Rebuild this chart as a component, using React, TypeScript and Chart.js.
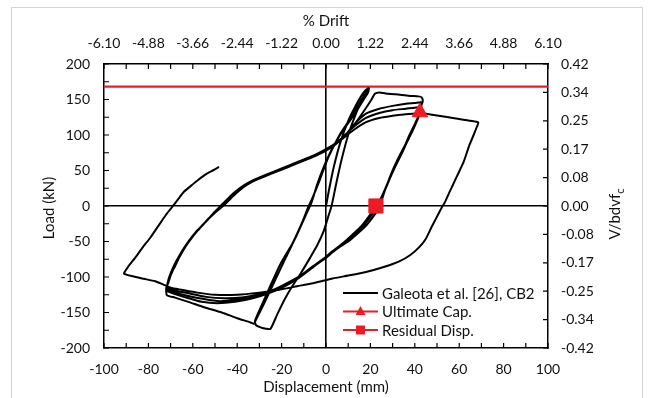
import React, { useEffect, useRef } from "react";
import { Chart, registerables } from "chart.js";

Chart.register(...registerables);

// ---------------- data ----------------
const dispTicks = [-100, -80, -60, -40, -20, 0, 20, 40, 60, 80, 100];
const dispMinorTicks = [-100, -90, -80, -70, -60, -50, -40, -30, -20, -10, 0, 10, 20, 30, 40, 50, 60, 70, 80, 90, 100];
const loadTicks = [-200, -150, -100, -50, 0, 50, 100, 150, 200];
const loadMinorTicks = [-200, -175, -150, -125, -100, -75, -50, -25, 0, 25, 50, 75, 100, 125, 150, 175, 200];
const driftTicks = [-6.1, -4.88, -3.66, -2.44, -1.22, 0, 1.22, 2.44, 3.66, 4.88, 6.1];
const ratioTicks = [-0.42, -0.336, -0.252, -0.168, -0.084, 0, 0.084, 0.168, 0.252, 0.336, 0.42];

const ultimateCapDisp = [42.3];
const ultimateCapLoad = [132];
const residualDispX = [22.5];
const residualDispY = [0];
const capacityLimitLoad = 168;
const capacityLimitSpan = [-100, 100];

type P = [number, number];
const branchInitial: P[] = [[0, 0], [1.5, 25], [3.5, 55], [6.5, 90], [10, 120], [13.5, 142], [16.5, 158], [19, 166]];
const branchNarrowDown1: P[] = [[18.5, 162], [16, 150], [12, 128], [6.3, 101], [2.5, 78], [0.3, 63], [-3, 35], [-6, 12], [-7.8, 0], [-11, -25], [-15, -52], [-20.4, -81], [-25, -112], [-29, -140], [-32, -162], [-31.5, -168], [-29.5, -171], [-27, -173], [-25, -173]];
const branchNarrowUp: P[] = [[-22, -153], [-18.9, -133], [-15, -112], [-11.4, -95], [-7, -72], [-3.9, -55], [-1, -35], [1, -15], [2.5, 0], [4.5, 30], [7, 65], [10, 100], [13.5, 130], [16.5, 152], [18.5, 163], [19.3, 166]];
const branchNarrowDown2: P[] = [[19, 160], [17, 150], [13, 130], [8, 108], [3, 82], [-1, 55], [-4, 30], [-6.5, 5], [-9, -12], [-13, -40], [-18, -72], [-23, -105], [-28, -138], [-31.5, -160], [-32.5, -166], [-34, -164], [-40, -158], [-47, -150], [-55, -142.5], [-62, -135], [-68, -129], [-71.5, -126]];
const branchUp1: P[] = [[-72, -120], [-71.5, -112], [-70.5, -102], [-69, -90], [-67.5, -79], [-65.5, -67], [-62, -50], [-58.5, -36], [-55, -25], [-51, -11], [-47.5, 0], [-44, 11], [-40.5, 21], [-37, 29], [-33, 36], [-27, 44], [-20, 53], [-12, 63], [-5, 72], [0, 80], [5, 90], [10, 104], [14, 120], [18, 138], [20.5, 150], [22, 158], [24, 160], [28, 158], [33.3, 156.7], [38, 155], [41.6, 154.4], [43.1, 153], [43.6, 148]];
const branchDown1: P[] = [[43, 142], [42, 130], [40.5, 118], [38.5, 104], [36, 88], [33, 70], [30, 50], [27.5, 30], [25.5, 12], [24.5, 0], [21.5, -14], [18.5, -26], [14.5, -38], [10.8, -48], [6.5, -57], [3, -65], [0, -73], [-6, -86], [-11.7, -100], [-17.4, -110], [-25, -121], [-32, -128], [-40, -132], [-48, -134], [-55, -131], [-63, -126], [-69, -121], [-72, -116]];
const branchUp2: P[] = [[-71, -108], [-70, -98], [-68.5, -86], [-67, -76], [-65, -64], [-61.5, -48], [-58, -35], [-54.5, -23], [-50.5, -10], [-47, 0], [-43.5, 11], [-40, 21], [-36.5, 29], [-32.5, 36], [-26.5, 44], [-19.5, 53], [-11.5, 63], [-4.5, 72], [0, 79], [5, 89], [9, 101], [13, 116], [18, 130], [24, 137], [30, 141], [36, 144], [40, 145], [43, 146]];
const branchDown2: P[] = [[42.8, 140], [41.5, 126], [39.5, 112], [37.3, 98], [34.8, 80], [31.8, 60], [28.8, 39], [26, 18], [24, 3], [23.5, 0], [20, -15], [17, -27], [13, -39], [9.5, -49], [5.5, -58], [2, -66], [-1, -74], [-6, -85], [-11, -97], [-16.5, -107], [-23, -117], [-30, -124], [-38, -129], [-46, -130], [-54, -128], [-62, -123], [-68, -119], [-71.5, -114]];
const branchUp3: P[] = [[-71, -104], [-70, -95], [-68.5, -84], [-67, -75], [-64.5, -62], [-61, -46], [-57, -32], [-53.5, -20], [-49.5, -8], [-46, 1], [-42.5, 12], [-39, 22], [-35.5, 30], [-31.5, 37], [-25.5, 45], [-18.5, 54], [-10.5, 64], [-3.5, 73], [1, 81], [5.5, 91], [9.5, 103], [13.5, 114], [18, 124], [24, 131], [30, 135], [36, 137], [40, 138.5], [43, 139]];
const branchDown3: P[] = [[42.5, 132], [41, 120], [39, 106], [36.5, 90], [34, 73], [31, 54], [28, 34], [25.5, 16], [23.5, 4], [22.5, 0], [19, -16], [16, -28], [12, -40], [8.5, -50], [4.5, -60], [1, -69], [-2, -77], [-7, -89], [-12, -101], [-18, -112], [-25, -122], [-33, -130], [-41, -135], [-49, -137], [-56, -135], [-63, -129], [-69, -123], [-72, -119]];
const branchUp4: P[] = [[-71.5, -112], [-70.5, -102], [-69, -91], [-68, -85], [-66, -72], [-63, -56], [-59.5, -41], [-56, -28], [-52, -15], [-48, -2], [-44.5, 9], [-41, 19], [-37.5, 27], [-34, 33], [-28, 41], [-21, 50], [-13, 60], [-6, 69], [-0.5, 77], [4, 86], [8, 96], [12, 106], [18, 118], [24, 124], [30, 127], [35, 129], [39, 130], [42, 131], [47, 129], [53, 126], [60, 122.5], [65, 120], [68.6, 117.7]];
const branchLargeDown: P[] = [[68, 112], [66.5, 100], [64.5, 85], [62, 62], [59, 42], [56, 22], [53.5, 5], [52.5, 0], [50, -15], [47.5, -30], [45, -46], [42, -58], [38, -69], [33, -78], [26, -86], [18, -93], [10, -98], [3, -102], [-5, -108], [-13, -113], [-21, -118], [-30, -122], [-40, -125], [-50, -125], [-58, -122], [-65, -118], [-70, -115], [-73, -111], [-77, -106], [-82, -102.5], [-87, -99], [-91, -95.4]];
const branchLargeUp: P[] = [[-90.5, -92], [-89, -85], [-86, -73], [-82.5, -58], [-79, -44], [-75.5, -28], [-72, -12], [-69.2, -1], [-66.5, 10], [-64, 20], [-61, 28], [-57.5, 37], [-54, 45], [-51, 50], [-48.2, 55]];

const hysteresisBranches: P[][] = [
  branchInitial, branchNarrowDown1, branchNarrowUp, branchNarrowDown2,
  branchUp1, branchDown1, branchUp2, branchDown2, branchUp3, branchDown3,
  branchUp4, branchLargeDown, branchLargeUp,
];

// ---------------- styling ----------------
const FONT = "Lato";
const RED = "#ec1c24";
const TXT = "#111";

const overlay = {
  id: "overlay",
  beforeDraw(chart: any) {
    const { ctx, width, height } = chart;
    ctx.save();
    ctx.fillStyle = "#fff";
    ctx.fillRect(0, 0, width, height);
    ctx.strokeStyle = "#d4d4d4";
    ctx.lineWidth = 1;
    ctx.strokeRect(11.5, 7.5, 631, 400);
    ctx.restore();
  },
  beforeDatasetsDraw(chart: any) {
    const { ctx, chartArea: a, scales } = chart;
    ctx.save();
    ctx.strokeStyle = "#000";
    ctx.lineWidth = 1.2;
    ctx.beginPath();
    for (const v of loadMinorTicks) {
      const py = scales.y.getPixelForValue(v);
      ctx.moveTo(a.left, py);
      ctx.lineTo(a.left + 5, py);
    }
    for (const v of ratioTicks) {
      const py = scales.y2.getPixelForValue(v);
      ctx.moveTo(a.right, py);
      ctx.lineTo(a.right - 5, py);
    }
    for (const v of dispMinorTicks) {
      const px = scales.x.getPixelForValue(v);
      ctx.moveTo(px, a.bottom);
      ctx.lineTo(px, a.bottom - 5);
      ctx.moveTo(px, a.top);
      ctx.lineTo(px, a.top + 5);
    }
    ctx.stroke();
    ctx.restore();
  },
  afterDraw(chart: any) {
    const { ctx, chartArea: a } = chart;
    ctx.save();
    ctx.fillStyle = TXT;
    ctx.textBaseline = "middle";
    ctx.textAlign = "center";
    ctx.font = `15px ${FONT}`;
    // titles
    ctx.fillText("% Drift", (a.left + a.right) / 2, 21);
    ctx.fillText("Displacement (mm)", (a.left + a.right) / 2, 387);
    ctx.save();
    ctx.translate(49, 208);
    ctx.rotate(-Math.PI / 2);
    ctx.fillText("Load (kN)", 0, 0);
    ctx.restore();
    ctx.save();
    ctx.translate(615, 214);
    ctx.rotate(-Math.PI / 2);
    ctx.textAlign = "left";
    const main = "V/bdvf";
    const w = ctx.measureText(main).width;
    ctx.font = `11px ${FONT}`;
    const ws = ctx.measureText("c").width;
    const start = -(w + ws) / 2;
    ctx.font = `15px ${FONT}`;
    ctx.fillText(main, start, 0);
    ctx.font = `11px ${FONT}`;
    ctx.fillText("c", start + w, 5);
    ctx.restore();

    // legend
    const rows = [
      { label: "Galeota et al. [26], CB2", color: "#000", marker: null as null | string },
      { label: "Ultimate Cap.", color: RED, marker: "triangle" },
      { label: "Residual Disp.", color: RED, marker: "rect" },
    ];
    const x0 = 343, x1 = 378, tx = 382;
    const ys = [293, 311.5, 330];
    ctx.font = `15px ${FONT}`;
    ctx.textAlign = "left";
    rows.forEach((r, i) => {
      const y = ys[i];
      ctx.strokeStyle = r.color;
      ctx.lineWidth = r.marker ? 2.2 : 2;
      ctx.beginPath();
      ctx.moveTo(x0, y);
      ctx.lineTo(x1, y);
      ctx.stroke();
      ctx.fillStyle = r.color;
      const cx = (x0 + x1) / 2;
      if (r.marker === "triangle") {
        ctx.beginPath();
        ctx.moveTo(cx, y - 5.5);
        ctx.lineTo(cx + 5, y + 3.5);
        ctx.lineTo(cx - 5, y + 3.5);
        ctx.closePath();
        ctx.fill();
      } else if (r.marker === "rect") {
        ctx.fillRect(cx - 4.5, y - 4.5, 9, 9);
      }
      ctx.fillStyle = TXT;
      ctx.fillText(r.label, tx, y + 1);
    });
    ctx.restore();
  },
};

export default function App() {
  const ref = useRef<HTMLCanvasElement>(null);
  useEffect(() => {
    const canvas = ref.current!;
    const hysteresis = hysteresisBranches.flat().map(([x, y]) => ({ x, y }));
    const tickFont = { family: FONT, size: 14 };
    const zeroGrid = (c: any) => (c.tick && c.tick.value === 0 ? "#000" : "rgba(0,0,0,0)");
    const chart = new Chart(canvas, {
      type: "scatter",
      data: {
        datasets: [
          {
            label: "Ultimate Cap.",
            data: ultimateCapDisp.map((x, i) => ({ x, y: ultimateCapLoad[i] })),
            pointStyle: "triangle",
            pointRadius: 9,
            backgroundColor: RED,
            borderColor: RED,
            borderWidth: 1,
            showLine: false,
          },
          {
            label: "Residual Disp.",
            data: residualDispX.map((x, i) => ({ x, y: residualDispY[i] })),
            pointStyle: "rect",
            pointRadius: 10,
            backgroundColor: RED,
            borderColor: RED,
            borderWidth: 1,
            showLine: false,
          },
          {
            label: "Galeota et al. [26], CB2",
            data: hysteresis,
            showLine: true,
            pointRadius: 0,
            borderColor: "#000",
            borderWidth: 2,
            tension: 0.2,
            borderJoinStyle: "round",
            fill: false,
          },
          {
            label: "Capacity",
            data: capacityLimitSpan.map((x) => ({ x, y: capacityLimitLoad })),
            showLine: true,
            pointRadius: 0,
            borderColor: RED,
            borderWidth: 2.2,
            fill: false,
          },
        ],
      },
      options: {
        responsive: false,
        animation: false,
        devicePixelRatio: 1,
        layout: { padding: 0 },
        plugins: { legend: { display: false }, tooltip: { enabled: false } },
        scales: {
          x: {
            type: "linear",
            position: "bottom",
            min: -100,
            max: 100,
            afterBuildTicks: (s: any) => { s.ticks = dispTicks.map((v) => ({ value: v })); },
            afterFit: (s: any) => { s.height = 50; },
            grid: { color: zeroGrid, lineWidth: 1.6, drawTicks: false },
            border: { display: true, color: "#000", width: 1.5 },
            ticks: { color: TXT, font: tickFont, padding: 13, maxRotation: 0, autoSkip: false },
          },
          x2: {
            type: "linear",
            position: "top",
            min: -6.1,
            max: 6.1,
            afterBuildTicks: (s: any) => { s.ticks = driftTicks.map((v) => ({ value: v })); },
            afterFit: (s: any) => { s.height = 64; },
            grid: { display: false, drawTicks: false },
            border: { display: true, color: "#000", width: 1.5 },
            ticks: { color: TXT, font: tickFont, padding: 12, maxRotation: 0, autoSkip: false, callback: (v: any) => Number(v).toFixed(2) },
          },
          y: {
            type: "linear",
            position: "left",
            min: -200,
            max: 200,
            afterBuildTicks: (s: any) => { s.ticks = loadTicks.map((v) => ({ value: v })); },
            afterFit: (s: any) => { s.width = 104; },
            grid: { color: zeroGrid, lineWidth: 1.6, drawTicks: false },
            border: { display: true, color: "#000", width: 1.5 },
            ticks: { color: TXT, font: tickFont, padding: 14, autoSkip: false },
          },
          y2: {
            type: "linear",
            position: "right",
            min: -0.42,
            max: 0.42,
            afterBuildTicks: (s: any) => { s.ticks = ratioTicks.map((v) => ({ value: v })); },
            afterFit: (s: any) => { s.width = 100; },
            grid: { display: false, drawTicks: false },
            border: { display: true, color: "#000", width: 1.5 },
            ticks: { color: TXT, font: tickFont, padding: 13, autoSkip: false, callback: (v: any) => Number(v).toFixed(2) },
          },
        },
      } as any,
      plugins: [overlay],
    });
    return () => chart.destroy();
  }, []);
  return (
    <div style={{ position: "fixed", left: 0, top: 0, width: 648, height: 398, background: "#fff" }}>
      <canvas ref={ref} width={648} height={398} style={{ display: "block", width: 648, height: 398 }} />
    </div>
  );
}
